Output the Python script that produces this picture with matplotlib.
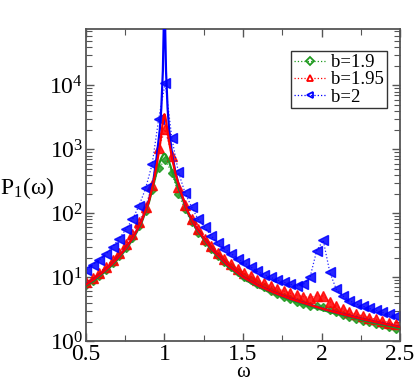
import matplotlib
matplotlib.use('Agg')
import matplotlib.pyplot as plt
from matplotlib.lines import Line2D
from matplotlib.ticker import LogLocator, MultipleLocator, NullFormatter

plt.rcParams['font.family'] = ['Liberation Serif', 'DejaVu Serif']
plt.rcParams['mathtext.fontset'] = 'custom'
plt.rcParams['mathtext.rm'] = 'Liberation Serif'
plt.rcParams['mathtext.it'] = 'Liberation Serif'

# simulated spectra (markers), sampled at omega_k = 2*pi*k/150
omega = [0.503, 0.545, 0.586, 0.628, 0.670, 0.712, 0.754, 0.796, 0.838, 0.880,
         0.922, 0.963, 1.005, 1.047, 1.089, 1.131, 1.173, 1.215, 1.257, 1.299,
         1.340, 1.382, 1.424, 1.466, 1.508, 1.550, 1.592, 1.634, 1.676, 1.717,
         1.759, 1.801, 1.843, 1.885, 1.927, 1.969, 2.011, 2.053, 2.094, 2.136,
         2.178, 2.220, 2.262, 2.304, 2.346, 2.388, 2.429, 2.471]

p_b19 = [7.5, 8.8, 10.6, 13.0, 16.5, 21.5, 29, 41, 63, 110,
         230, 510, 680, 430, 200, 115, 72, 50, 36, 27.5,
         21.5, 17.3, 14.3, 12.0, 10.2, 8.9, 7.8, 6.9, 6.15, 5.5,
         4.95, 4.5, 4.1, 3.8, 3.6, 3.5, 3.4, 3.1, 2.85, 2.6,
         2.4, 2.25, 2.1, 1.98, 1.87, 1.76, 1.66, 1.57]

p_b195 = [8.3, 9.8, 11.8, 14.5, 18.5, 24, 33, 47, 72, 125,
          280, 1050, 2050, 800, 260, 135, 82, 56, 40, 30.5,
          24, 19.3, 16.0, 13.4, 11.6, 10.3, 9.1, 8.06, 7.3, 6.56,
          6.1, 5.6, 5.27, 4.96, 4.78, 5.14, 5.08, 4.13, 3.53, 3.13,
          2.87, 2.64, 2.48, 2.34, 2.18, 2.07, 1.95, 1.84]

p_b2 = [13, 15.7, 18.7, 23, 30, 40, 56, 80, 131, 245,
        590, 2950, 11000, 1500, 440, 210, 125, 80, 60, 44,
        34, 27.7, 23.4, 19.5, 16.8, 14.4, 12.3, 11.0, 9.9, 9.1,
        8.36, 7.77, 7.3, 7.77, 10.0, 26, 37.6, 11.9, 6.46, 5.08,
        4.29, 3.8, 3.53, 3.24, 3.05, 2.81, 2.64, 2.48]

# theory curves (solid lines)
w_line = [0.5, 0.55, 0.6, 0.65, 0.7, 0.75, 0.8, 0.85, 0.9, 0.93, 0.95, 0.97,
          0.98, 0.99, 0.995, 1.0, 1.005, 1.01, 1.02, 1.03, 1.05, 1.07, 1.1,
          1.15, 1.2, 1.3, 1.4, 1.5, 1.6, 1.7, 1.8, 1.9, 2.0, 2.1, 2.2, 2.3,
          2.4, 2.5]

th_b19 = [7.3, 8.7, 11.0, 14.0, 18.8, 26.3, 39.7, 67, 144, 280, 440, 630,
          730, 810, 840, 850, 840, 810, 730, 630, 445, 320, 212,
          99, 58, 26.2, 14.9, 9.5, 7.0, 5.45, 4.4, 3.68, 3.1, 2.65, 2.3, 2.0,
          1.78, 1.58]

th_b195 = [7.6, 9.2, 11.5, 14.7, 19.7, 27.6, 41.7, 71, 151, 300, 560, 1100,
           1700, 2700, 3300, 3550, 3300, 2800, 1900, 1300, 700, 420, 230,
           104, 60.6, 27.5, 15.6, 10.0, 7.3, 5.7, 4.6, 3.85, 3.25, 2.77, 2.4,
           2.1, 1.86, 1.66]

th_b2 = [7.6, 9.2, 11.5, 14.7, 19.7, 27.6, 41.7, 71, 155, 330, 750, 2000,
         4400, 17000, 70000, 1000000, 70000, 17000, 4400, 2000, 800, 440, 228,
         104, 60.6, 27.5, 15.6, 10.0, 7.3, 5.7, 4.6, 3.85, 3.25, 2.77, 2.4,
         2.1, 1.86, 1.66]

labels = ['b=1.9', 'b=1.95', 'b=2']
colors = ['#1f9a1f', '#ff0000', '#0000ff']
markers = ['D', '^', '<']

fig = plt.figure(figsize=(4.15, 3.79), dpi=100)
ax = fig.add_axes([0.207, 0.100, 0.757, 0.823])

ax.plot(w_line, th_b19, color=colors[0], lw=1.6, zorder=3)
ax.plot(w_line, th_b2, color=colors[2], lw=1.6, zorder=3)
ax.plot(w_line, th_b195, color=colors[1], lw=1.6, zorder=3)

series = [p_b19, p_b195, p_b2]
sizes = [4.5, 7.0, 7.0]
for vals, c, m, s in zip(series, colors, markers, sizes):
    ax.plot(omega, vals, color=c, ls=':', lw=0.9, marker=m, ms=s,
            mfc=c, mec=c, alpha=0.85, zorder=2)

ax.set_yscale('log')
ax.set_xlim(0.5, 2.5)
ax.set_ylim(1, 76000)
ax.xaxis.set_minor_locator(MultipleLocator(0.25))
ax.set_xticks([0.5, 1, 1.5, 2, 2.5])
ax.set_xticklabels(['0.5', '1', '1.5', '2', '2.5'])
ax.yaxis.set_minor_locator(LogLocator(base=10, subs=range(2, 10), numticks=10))
ax.yaxis.set_minor_formatter(NullFormatter())
ax.set_yticks([1, 10, 100, 1000, 10000])
ax.set_yticklabels(['$10^0$', '$10^1$', '$10^2$', '$10^3$', '$10^4$'])

ax.tick_params(which='both', direction='in', top=True, right=True,
               color='#555555', labelsize=17)
ax.tick_params(which='major', length=6, width=1.0, pad=2)
ax.tick_params(which='minor', length=4, width=0.8)
for sp in ax.spines.values():
    sp.set_color('#555555')
    sp.set_linewidth(1.3)

ax.set_xlabel('ω', fontsize=15, labelpad=-1)
ax.set_ylabel('P$_1$(ω)', fontsize=17, rotation=0, va='center', ha='left')
ax.yaxis.set_label_coords(-0.272, 0.49)

handles = [Line2D([], [], color=c, ls=':', lw=0.9, marker=m, ms=s,
                  mfc='none', mec=c, mew=1.3)
           for c, m, s in zip(colors, markers, [4.0, 5.0, 5.0])]
leg = ax.legend(handles, labels, loc='upper right', fontsize=13.5,
                bbox_to_anchor=(0.959, 0.929), frameon=True, fancybox=False,
                edgecolor='black', handlelength=1.7, handletextpad=0.3,
                borderpad=0.15, labelspacing=0.0, borderaxespad=0)
leg.get_frame().set_linewidth(1.0)

fig.savefig('out.png', dpi=100)
